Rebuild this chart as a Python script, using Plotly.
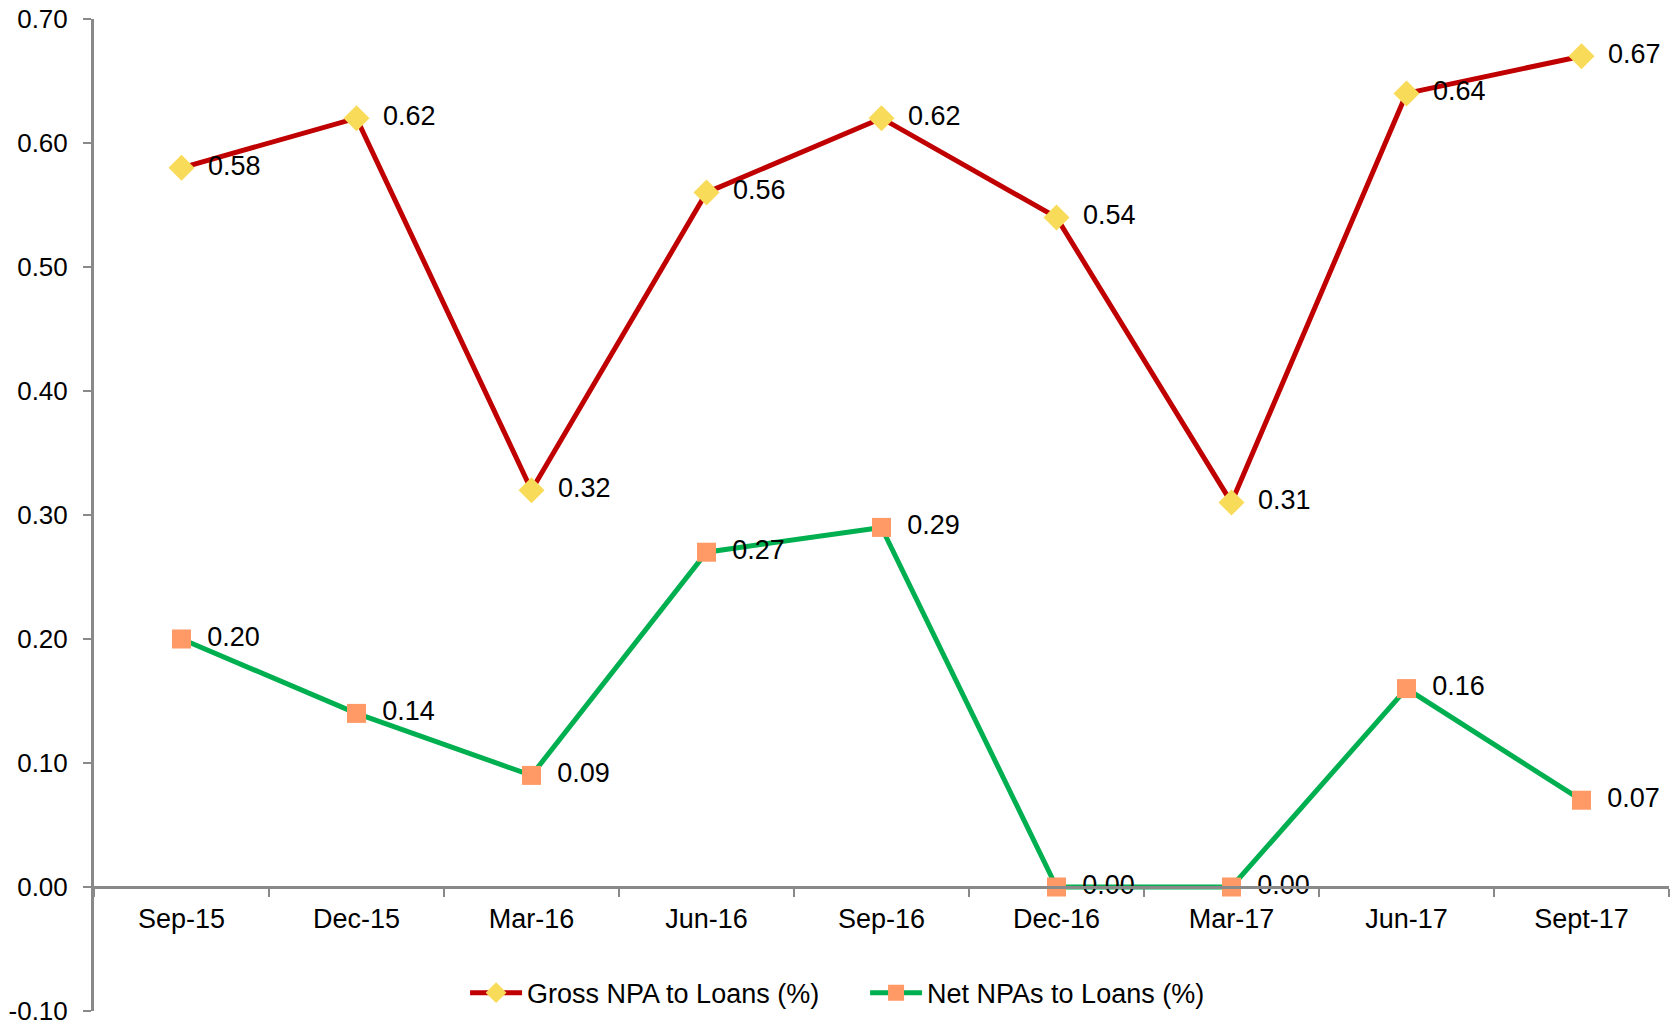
import plotly.graph_objects as go

categories = ["Sep-15", "Dec-15", "Mar-16", "Jun-16", "Sep-16", "Dec-16", "Mar-17", "Jun-17", "Sept-17"]
gross_npa = [0.58, 0.62, 0.32, 0.56, 0.62, 0.54, 0.31, 0.64, 0.67]
net_npa = [0.20, 0.14, 0.09, 0.27, 0.29, 0.00, 0.00, 0.16, 0.07]
y_ticks = [-0.10, 0.00, 0.10, 0.20, 0.30, 0.40, 0.50, 0.60, 0.70]

FONT = "Liberation Sans, Arial, sans-serif"
FS = 27
PAD = "\u00a0\u2009"

fig = go.Figure()
fig.add_trace(go.Scatter(
    x=categories, y=gross_npa, name="Gross NPA to Loans (%)",
    mode="lines+markers+text",
    line=dict(color="#C00000", width=5),
    marker=dict(symbol="diamond", size=20, color="#F9DB5A"),
    text=[PAD + f"{v:.2f}" for v in gross_npa], textposition="middle right",
    textfont=dict(family=FONT, size=FS, color="#000000"),
    cliponaxis=False,
))
fig.add_trace(go.Scatter(
    x=categories, y=net_npa, name="Net NPAs to Loans (%)",
    mode="lines+markers+text",
    line=dict(color="#00B050", width=5),
    marker=dict(symbol="square", size=19, color="#FF9966"),
    text=[PAD + f"{v:.2f}" for v in net_npa], textposition="middle right",
    textfont=dict(family=FONT, size=FS, color="#000000"),
    cliponaxis=False,
))

zero_pos = (0 - (-0.1)) / (0.7 - (-0.1))

fig.update_layout(
    template="none",
    width=1672, height=1026,
    margin=dict(l=94, r=3, t=19, b=15, autoexpand=False),
    paper_bgcolor="white", plot_bgcolor="white",
    font=dict(family=FONT, size=FS, color="#000000"),
    showlegend=True,
    legend=dict(orientation="h", x=0.2356, y=0.018, xanchor="left", yanchor="middle",
                font=dict(family=FONT, size=FS, color="#000000"),
                bgcolor="rgba(0,0,0,0)", itemwidth=52, traceorder="normal",
                entrywidth=333, entrywidthmode="pixels"),
    xaxis=dict(
        type="category", range=[-0.5, 8.5], automargin=False,
        anchor="free", position=zero_pos,
        showline=True, linecolor="#898989", linewidth=3,
        ticks="outside", tickson="boundaries", ticklen=8, tickcolor="#898989", tickwidth=2,
        showgrid=False, zeroline=False,
        tickfont=dict(family=FONT, size=FS, color="#000000"),
        ticklabelstandoff=7,
    ),
    yaxis=dict(
        range=[-0.1, 0.7], tickvals=y_ticks, ticktext=[f"{v:.2f}" for v in y_ticks],
        automargin=False,
        showline=True, linecolor="#898989", linewidth=3,
        ticks="outside", ticklen=8, tickcolor="#898989", tickwidth=2,
        showgrid=False, zeroline=False,
        tickfont=dict(family=FONT, size=26, color="#000000"),
        ticklabelstandoff=10, ticklabeloverflow="allow",
    ),
)

fig.write_html("out.html", config={"displayModeBar": False},
               post_script="document.body.style.margin='0';document.body.style.overflow='hidden';")
